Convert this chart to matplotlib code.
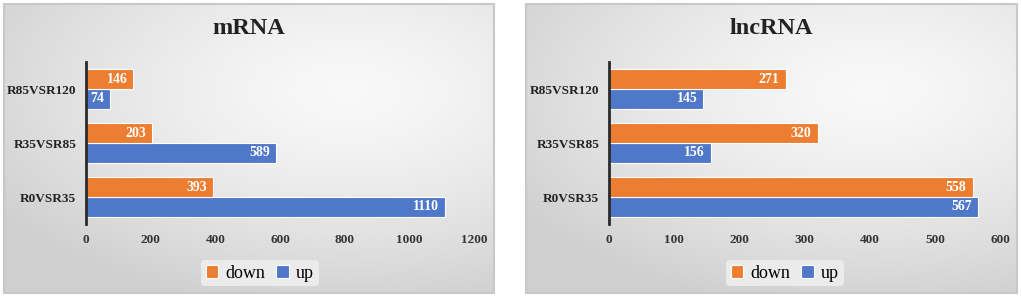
import numpy as np
import matplotlib.pyplot as plt
from matplotlib.patches import Rectangle
from matplotlib.transforms import offset_copy

plt.rcParams['font.family'] = ['Liberation Serif', 'DejaVu Serif']

categories = ["R0VSR35", "R35VSR85", "R85VSR120"]
mrna_down = [393, 203, 146]
mrna_up = [1110, 589, 74]
lnc_down = [558, 320, 271]
lnc_up = [567, 156, 145]
series_names = ["down", "up"]

C_DOWN = "#ED7D31"
C_UP = "#4F78C8"

W, H = 1021, 298
fig = plt.figure(figsize=(W / 100, H / 100), dpi=100)


def px(x0, y0, x1, y1):
    # pixel box (top-left origin) -> figure fraction rect
    return [x0 / W, (H - y1) / H, (x1 - x0) / W, (y1 - y0) / H]


def background(rect):
    bg = fig.add_axes(rect, zorder=0)
    yy, xx = np.mgrid[0:1:200j, 0:1:400j]
    d = np.sqrt(((xx - 0.7) / 1.0) ** 2 + ((yy - 0.3) / 0.9) ** 2)
    g = 0.975 - 0.16 * np.clip(d / 0.85, 0, 1) ** 1.4
    bg.imshow(np.dstack([g, g, g]), aspect="auto", extent=[0, 1, 1, 0])
    bg.set_xlim(0, 1)
    bg.set_ylim(1, 0)
    bg.axis("off")
    bg.add_patch(Rectangle((0, 0), 1, 1, fill=False, edgecolor="#c8c8c8",
                           lw=1.5, transform=bg.transAxes, clip_on=False))


def panel(panel_box, plot_box, title, down, up, xmax, step, legend_x):
    background(px(*panel_box))
    ax = fig.add_axes(px(*plot_box), zorder=1)
    ax.patch.set_alpha(0)
    y = np.arange(len(categories))
    h = 0.37
    b_up = ax.barh(y - h / 2, up, height=h, color=C_UP, edgecolor="white", lw=0.8, label=series_names[1])
    b_dn = ax.barh(y + h / 2, down, height=h, color=C_DOWN, edgecolor="white", lw=0.8, label=series_names[0])
    tr = offset_copy(ax.transData, fig=fig, x=-6, y=0, units="dots")
    for yy, v in zip(y + h / 2, down):
        ax.text(v, yy, str(v), transform=tr, ha="right", va="center",
                color="white", fontsize=10, fontweight="bold")
    for yy, v in zip(y - h / 2, up):
        ax.text(v, yy, str(v), transform=tr, ha="right", va="center",
                color="white", fontsize=10, fontweight="bold")
    ax.set_xlim(0, xmax)
    ax.set_ylim(-0.5, 2.5)
    ax.set_xticks(np.arange(0, xmax + 1, step))
    ax.set_yticks(y)
    ax.set_yticklabels(categories, fontsize=9.5, fontweight="bold", color="#222222")
    ax.tick_params(axis="both", length=0)
    ax.tick_params(axis="y", pad=7)
    ax.tick_params(axis="x", pad=7, labelsize=9.5)
    for lb in ax.get_xticklabels():
        lb.set_fontweight("bold")
        lb.set_color("#333333")
    for s in ("top", "right", "bottom"):
        ax.spines[s].set_visible(False)
    ax.spines["left"].set_linewidth(2)
    ax.spines["left"].set_color("#2a2a2a")
    cx = (panel_box[0] + panel_box[2]) / 2
    fig.text(cx / W, (H - 29) / H, title, ha="center", va="center",
             fontsize=17.5, fontweight="bold", color="#222222")
    handles = [b_dn, b_up]
    leg = fig.legend(handles, series_names, loc="center", bbox_to_anchor=(legend_x / W, (H - 273) / H),
                     ncol=2, frameon=True, prop={"family": "Liberation Serif", "size": 13},
                     handlelength=0.7, handleheight=0.7,
                     handletextpad=0.4, columnspacing=0.6, borderpad=0.25)
    leg.get_frame().set_facecolor("#ebebeb")
    leg.get_frame().set_edgecolor("none")
    leg.get_frame().set_alpha(1)
    leg.set_zorder(3)


panel((4, 4, 494, 293), (86, 62, 474, 224), "mRNA", mrna_down, mrna_up, 1200, 200, 260)
panel((526, 4, 1017, 293), (609, 62, 1000, 224), "lncRNA", lnc_down, lnc_up, 600, 100, 785)

fig.savefig("out.png", dpi=100)
